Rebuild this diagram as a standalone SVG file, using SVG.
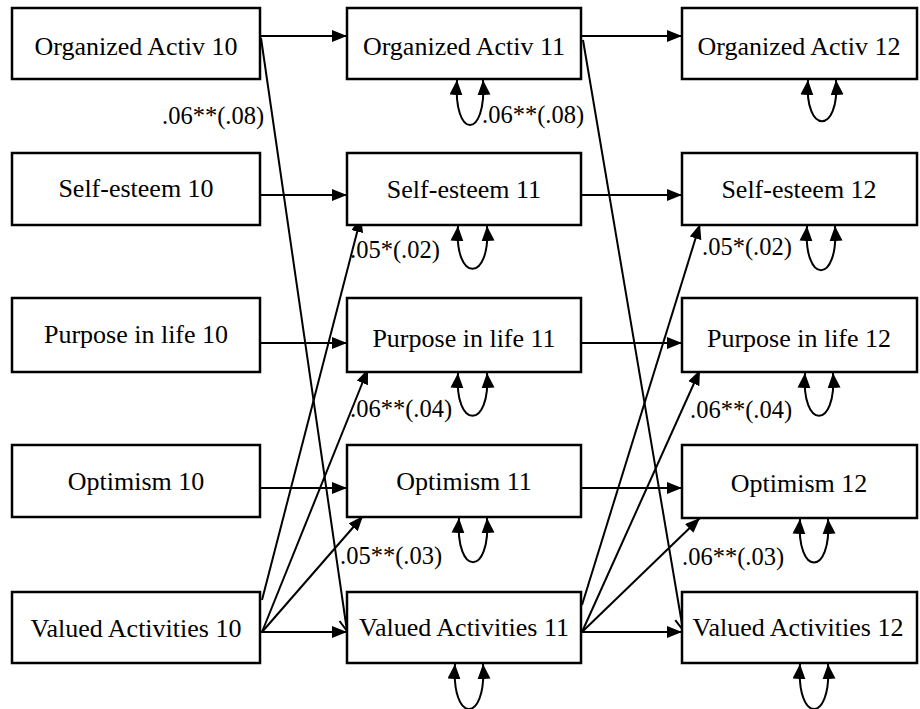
<svg xmlns="http://www.w3.org/2000/svg" width="920" height="709" viewBox="0 0 920 709">
<style>
.box{fill:#fff;stroke:#000;stroke-width:2.5}
.t{font-size:26px;fill:#000;text-anchor:middle}
.lbl{font-size:24.5px;fill:#000}
.ln{stroke:#000;stroke-width:2;fill:none}
.a{marker-end:url(#arr)}
.o{marker-end:url(#open)}
.loop{stroke:#000;stroke-width:2;fill:none;marker-start:url(#arr2);marker-end:url(#arr2)}
</style>
<defs>
<marker id="arr" markerWidth="16" markerHeight="14" refX="15" refY="6" orient="auto" markerUnits="userSpaceOnUse"><path d="M0,0 L15,6 L0,12 z" fill="#000"/></marker>
<marker id="arr2" markerWidth="16" markerHeight="14" refX="15" refY="6.5" orient="auto-start-reverse" markerUnits="userSpaceOnUse"><path d="M0,0 L15,6.5 L0,13 z" fill="#000"/></marker>
<marker id="open" markerWidth="16" markerHeight="16" refX="12" refY="6" orient="auto" markerUnits="userSpaceOnUse" overflow="visible"><path d="M1,0 L12,6 L1,12" fill="none" stroke="#000" stroke-width="2"/></marker>
</defs>
<rect width="920" height="709" fill="#fff"/>
<g id="connectors">
<line class="ln a" x1="260" y1="36" x2="347" y2="36"/>
<line class="ln a" x1="260" y1="195" x2="347" y2="195"/>
<line class="ln a" x1="260" y1="343" x2="347" y2="343"/>
<line class="ln a" x1="260" y1="488" x2="347" y2="488"/>
<line class="ln a" x1="260" y1="632" x2="347" y2="632"/>
<line class="ln a" x1="581" y1="36" x2="682" y2="36"/>
<line class="ln a" x1="581" y1="195" x2="682" y2="195"/>
<line class="ln a" x1="581" y1="343" x2="682" y2="343"/>
<line class="ln a" x1="581" y1="488" x2="682" y2="488"/>
<line class="ln a" x1="581" y1="632" x2="682" y2="632"/>
<line class="ln o" x1="261" y1="38" x2="347" y2="631"/>
<line class="ln o" x1="583" y1="40" x2="683" y2="630"/>
<line class="ln a" x1="262" y1="600" x2="361" y2="217"/>
<line class="ln a" x1="262" y1="632" x2="368" y2="369"/>
<line class="ln a" x1="262" y1="632" x2="363" y2="516"/>
<line class="ln a" x1="582" y1="605" x2="700" y2="224"/>
<line class="ln a" x1="582" y1="632" x2="700" y2="370"/>
<line class="ln a" x1="582" y1="632" x2="700" y2="518"/>
<path class="loop" d="M457,80 C453,140 487,140 483,80"/>
<path class="loop" d="M458,226 C454,283 491,283 487,226"/>
<path class="loop" d="M458,373 C454,430 491,430 487,373"/>
<path class="loop" d="M459,518 C455,577 491,577 487,518"/>
<path class="loop" d="M455,664 C451,724 487,724 483,664"/>
<path class="loop" d="M808,80 C804,135 840,135 836,80"/>
<path class="loop" d="M807,226 C803,285 839,285 835,226"/>
<path class="loop" d="M805,373 C801,430 837,430 833,373"/>
<path class="loop" d="M800,519 C796,577 832,577 828,519"/>
<path class="loop" d="M800,664 C796,724 832,724 828,664"/>
</g>
<g id="labels" font-family="Liberation Serif, serif">
<text class="lbl" x="162" y="124">.06**(.08)</text>
<text class="lbl" x="482" y="123">.06**(.08)</text>
<text class="lbl" x="350" y="258">.05*(.02)</text>
<text class="lbl" x="350" y="417">.06**(.04)</text>
<text class="lbl" x="340" y="564">.05**(.03)</text>
<text class="lbl" x="702" y="255">.05*(.02)</text>
<text class="lbl" x="690" y="418">.06**(.04)</text>
<text class="lbl" x="682" y="565">.06**(.03)</text>
</g>
<g id="nodes" font-family="Liberation Serif, serif">
<g id="oa10"><rect class="box" x="12" y="8" width="248" height="71"/><text class="t" x="136" y="55">Organized Activ 10</text></g>
<g id="se10"><rect class="box" x="12" y="153" width="248" height="72"/><text class="t" x="136" y="197">Self-esteem 10</text></g>
<g id="pl10"><rect class="box" x="12" y="298" width="248" height="74"/><text class="t" x="136" y="343">Purpose in life 10</text></g>
<g id="op10"><rect class="box" x="12" y="445" width="248" height="72"/><text class="t" x="136" y="490">Optimism 10</text></g>
<g id="va10"><rect class="box" x="12" y="592" width="248" height="71"/><text class="t" x="136" y="637">Valued Activities 10</text></g>
<g id="oa11"><rect class="box" x="347" y="8" width="234" height="71"/><text class="t" x="464" y="55">Organized Activ 11</text></g>
<g id="se11"><rect class="box" x="347" y="153" width="234" height="72"/><text class="t" x="464" y="198">Self-esteem 11</text></g>
<g id="pl11"><rect class="box" x="347" y="298" width="234" height="74"/><text class="t" x="464" y="347">Purpose in life 11</text></g>
<g id="op11"><rect class="box" x="347" y="445" width="234" height="72"/><text class="t" x="464" y="490">Optimism 11</text></g>
<g id="va11"><rect class="box" x="347" y="592" width="234" height="71"/><text class="t" x="464" y="636">Valued Activities 11</text></g>
<g id="oa12"><rect class="box" x="682" y="8" width="235" height="71"/><text class="t" x="799" y="55">Organized Activ 12</text></g>
<g id="se12"><rect class="box" x="682" y="153" width="235" height="72"/><text class="t" x="799" y="198">Self-esteem 12</text></g>
<g id="pl12"><rect class="box" x="682" y="298" width="235" height="74"/><text class="t" x="799" y="347">Purpose in life 12</text></g>
<g id="op12"><rect class="box" x="682" y="445" width="235" height="73"/><text class="t" x="799" y="492">Optimism 12</text></g>
<g id="va12"><rect class="box" x="682" y="592" width="235" height="71"/><text class="t" x="798" y="636">Valued Activities 12</text></g>
</g>
</svg>
